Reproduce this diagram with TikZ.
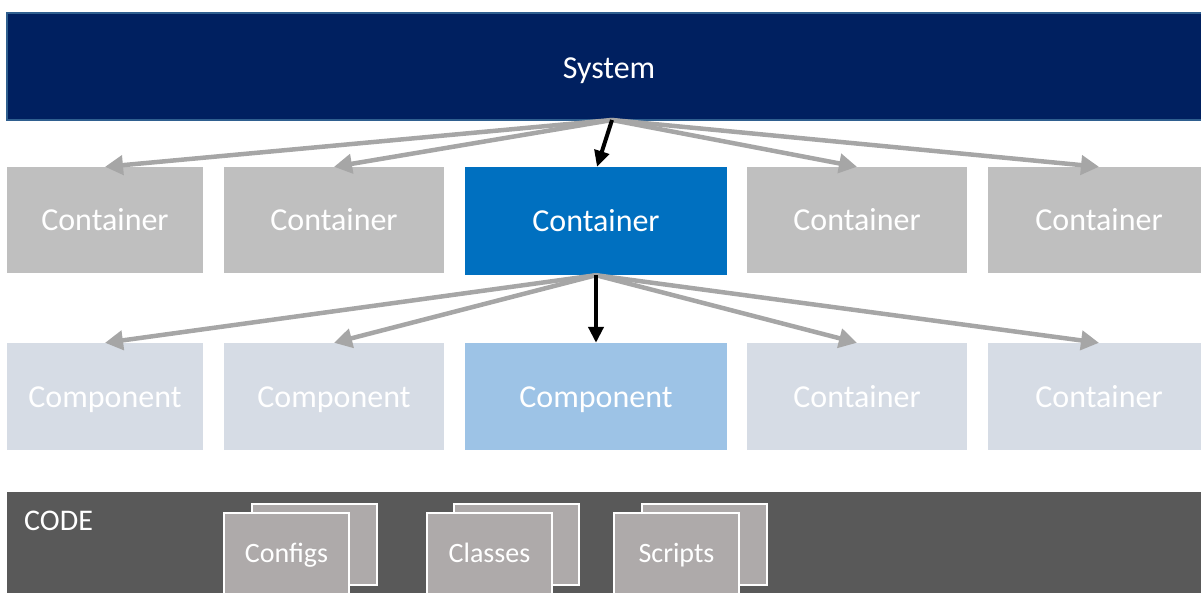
\documentclass[tikz,border=0pt]{standalone}
\usepackage{fontspec}
\setmainfont{Carlito}
\usetikzlibrary{arrows.meta}

\definecolor{navy}{HTML}{002060}
\definecolor{navyline}{HTML}{2F5F8F}
\definecolor{ctrgrey}{HTML}{BFBFBF}
\definecolor{ctrblue}{HTML}{0070C0}
\definecolor{cmpgrey}{HTML}{D6DCE5}
\definecolor{cmpblue}{HTML}{9DC3E6}
\definecolor{codegrey}{HTML}{595959}
\definecolor{cardgrey}{HTML}{AEAAAA}
\definecolor{arrgrey}{HTML}{A6A6A6}

\begin{document}
\begin{tikzpicture}[x=1pt, y=-1pt,
	box/.style={inner sep=0pt, text=white, font=\fontsize{32}{38}\selectfont, text height=21pt, text depth=0pt},
	ctr/.style={box, fill=ctrgrey, minimum height=106pt},
	ctrsel/.style={box, fill=ctrblue, minimum height=108pt},
	cmp/.style={box, fill=cmpgrey, minimum height=107pt},
	cmpsel/.style={box, fill=cmpblue, minimum height=107pt},
	card/.style={box, fill=cardgrey, draw=white, line width=2pt, minimum width=125pt, minimum height=81pt, font=\fontsize{28}{34}\selectfont, text height=18pt},
	gline/.style={draw=arrgrey, line width=4.5pt, -{Triangle[length=18pt, width=19pt]}},
	bline/.style={draw=black, line width=4pt, -{Triangle[length=16pt, width=15pt]}}]
	\useasboundingbox (0,0) rectangle (1201,592);
	\clip (0,0) rectangle (1201,592);

	\node[box, fill=navy, draw=navyline, line width=1.2pt, minimum width=1210pt, minimum height=107pt] (sys) at (612,66.5) {};
	\node[box] (systxt) at (609,68) {System};

	\node[ctr, minimum width=196pt] (c1) at (105,220) {Container};
	\node[ctr, minimum width=220pt] (c2) at (334,220) {Container};
	\node[ctrsel, minimum width=262pt] (c3) at (596,221) {Container};
	\node[ctr, minimum width=220pt] (c4) at (857,220) {Container};
	\node[ctr, minimum width=222pt] (c5) at (1099,220) {Container};

	\node[cmp, minimum width=196pt] (m1) at (105,396.5) {Component};
	\node[cmp, minimum width=220pt] (m2) at (334,396.5) {Component};
	\node[cmpsel, minimum width=262pt] (m3) at (596,396.5) {Component};
	\node[cmp, minimum width=220pt] (m4) at (857,396.5) {Container};
	\node[cmp, minimum width=222pt] (m5) at (1099,396.5) {Container};

	\node[box, fill=codegrey, minimum width=1210pt, minimum height=110pt] (code) at (612,547) {};
	\node[box, font=\fontsize{30}{36}\selectfont, anchor=base west] (codelbl) at (24,530) {CODE};

	\node[card] (cfgb) at (314,544.5) {};
	\node[card] (cfg) at (286.5,553.5) {Configs};
	\node[card] (clsb) at (516.5,544.5) {};
	\node[card] (cls) at (489.5,553.5) {Classes};
	\node[card] (scrb) at (704.5,544.5) {};
	\node[card] (scr) at (676.5,553.5) {Scripts};

	\coordinate (s0) at (612,120);

	\draw[gline] (s0) -- (c1.north);
	\draw[gline] (s0) -- (c2.north);
	\draw[gline] (s0) -- (c4.north);
	\draw[gline] (s0) -- (c5.north);
	\draw[bline] (s0) -- ([xshift=1pt]c3.north);

	\draw[gline] (c3.south) -- (m1.north);
	\draw[gline] (c3.south) -- (m2.north);
	\draw[gline] (c3.south) -- (m4.north);
	\draw[gline] (c3.south) -- (m5.north);
	\draw[bline] (c3.south) -- (m3.north);
\end{tikzpicture}
\end{document}
